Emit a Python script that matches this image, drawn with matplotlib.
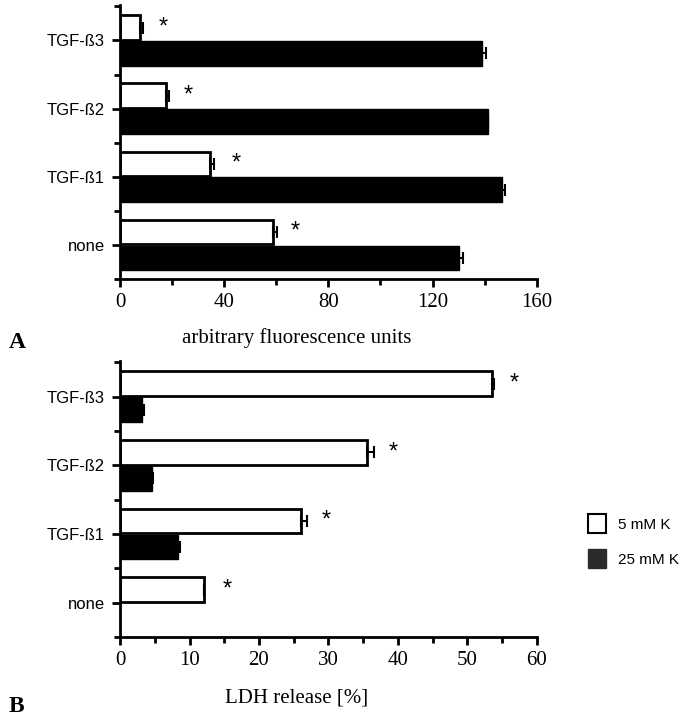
import matplotlib
matplotlib.use("Agg")
from matplotlib import pyplot as plt
from matplotlib.patches import Patch
import numpy as np

# data
groups = ["none", "TGF-ß1", "TGF-ß2", "TGF-ß3"]

fl_5k = [58.8, 34.6, 17.5, 7.7]
fl_5k_err = [1.4, 1.6, 1.3, 1.3]
fl_25k = [130.2, 146.8, 141.1, 139.0]
fl_25k_err = [1.3, 1.1, 0.0, 1.7]
fl_star_x = [67.3, 44.5, 26.0, 16.4]

ldh_5k = [12.1, 26.0, 35.5, 53.6]
ldh_5k_err = [0.0, 0.9, 1.0, 0.3]
ldh_25k = [0.0, 8.4, 4.6, 3.2]
ldh_25k_err = [0.0, 0.2, 0.2, 0.3]
ldh_star_x = [15.4, 29.7, 39.3, 56.8]

sans = "Liberation Sans"
serif = "Liberation Serif"

fig = plt.figure(figsize=(6.98, 7.19), dpi=100)
axA = fig.add_axes([0.172, 0.612, 0.597, 0.381])
axB = fig.add_axes([0.172, 0.114, 0.597, 0.384])

y = np.arange(len(groups))
h = 0.36
off = 0.19


def panel(ax, white, white_err, black, black_err, stars, xmax, xticks, minor):
    ax.barh(y + off, white, height=h, color="white", edgecolor="black", linewidth=2)
    ax.barh(y - off, black, height=h, color="black", edgecolor="black", linewidth=1)
    ax.errorbar(white, y + off, xerr=[np.zeros(len(y)), white_err], fmt="none",
                ecolor="black", elinewidth=1.5, capsize=4, capthick=1.5)
    ax.errorbar(black, y - off, xerr=[np.zeros(len(y)), black_err], fmt="none",
                ecolor="black", elinewidth=1.5, capsize=4, capthick=1.5)
    for sx, sy in zip(stars, y + off):
        ax.text(sx, sy, "*", ha="center", va="center", fontsize=17,
                family=sans)
    ax.set_xlim(0, xmax)
    ax.set_ylim(-0.48, 3.52)
    ax.set_xticks(xticks)
    ax.set_xticks(minor, minor=True)
    ax.set_xticklabels([str(t) for t in xticks], family=serif, fontsize=15)
    ax.set_yticks(y)
    ax.set_yticks(np.arange(-0.5, 3.6, 1.0), minor=True)
    ax.set_yticklabels(groups, family=sans, fontsize=12)
    for s in ["top", "right"]:
        ax.spines[s].set_visible(False)
    for s in ["left", "bottom"]:
        ax.spines[s].set_linewidth(2)
    ax.tick_params(which="major", direction="out", length=6, width=2, pad=4)
    ax.tick_params(which="minor", direction="out", length=4, width=2)
    ax.tick_params(axis="y", which="major", length=6, pad=5)


panel(axA, fl_5k, fl_5k_err, fl_25k, fl_25k_err, fl_star_x, 160,
      [0, 40, 80, 120, 160], [20, 60, 100, 140])
panel(axB, ldh_5k, ldh_5k_err, ldh_25k, ldh_25k_err, ldh_star_x, 60,
      [0, 10, 20, 30, 40, 50, 60], [5, 15, 25, 35, 45, 55])

fig.text(0.425, 1 - 338 / 719, "arbitrary fluorescence units", family=serif,
         fontsize=15, ha="center", va="center")
fig.text(0.425, 1 - 698 / 719, "LDH release [%]", family=serif,
         fontsize=15, ha="center", va="center")
fig.text(0.012, 1 - 343 / 719, "A", family=serif, fontsize=17,
         fontweight="bold", ha="left", va="center")
fig.text(0.012, 1 - 706 / 719, "B", family=serif, fontsize=17,
         fontweight="bold", ha="left", va="center")

handles = [Patch(facecolor="white", edgecolor="black", linewidth=1.5, label="5 mM K"),
           Patch(facecolor="#2a2a2a", edgecolor="#2a2a2a", hatch="....", label="25 mM K")]
fig.legend(handles=handles, loc="center left", bbox_to_anchor=(0.842, 1 - 541 / 719),
           frameon=False, prop={"family": sans, "size": 11}, handlelength=1.18,
           handleheight=1.45, handletextpad=0.8, labelspacing=1.1, borderpad=0,
           borderaxespad=0)

fig.savefig("out.png", dpi=100)
